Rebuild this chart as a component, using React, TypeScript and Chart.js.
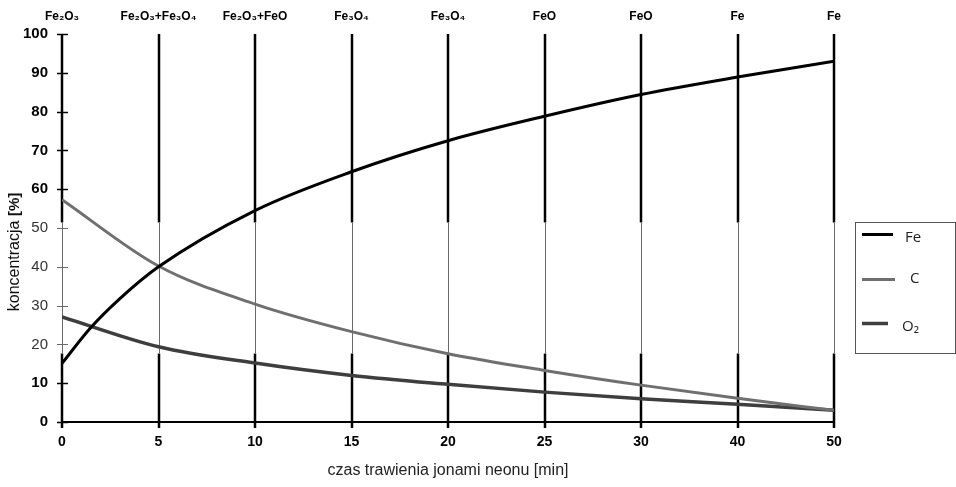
import React, { useEffect, useRef } from 'react';
import { Chart, registerables } from 'chart.js';

Chart.register(...registerables);

// ---- data ----
// x-axis categories (equally spaced positions 0..8)
const categories = ['0', '5', '10', '15', '20', '25', '30', '40', '50'];
const phaseLabels = ['Fe₂O₃', 'Fe₂O₃+Fe₃O₄', 'Fe₂O₃+FeO', 'Fe₃O₄', 'Fe₃O₄', 'FeO', 'FeO', 'Fe', 'Fe'];

// series sampled along the category positions (Fe with two read-off intermediate points)
const feX = [0, 0.29, 0.6, 1, 2, 3, 4, 5, 6, 7, 8];
const feY = [15.1, 24.1, 31.8, 40, 54.5, 64.5, 72.5, 78.8, 84.4, 88.9, 93];
const cX = [0, 1, 2, 3, 4, 5, 6, 7, 8];
const cY = [57.3, 40.2, 30.4, 23.3, 17.6, 13.3, 9.5, 6.1, 3];
const o2X = [0, 1, 2, 3, 4, 5, 6, 7, 8];
const o2Y = [27.1, 19.4, 15.2, 12, 9.7, 7.7, 6, 4.6, 3];

const seriesNames = ['Fe', 'C', 'O₂'];
const seriesColors = ['#000000', '#6f6f6f', '#3e3e3e'];
const seriesWidths = [3, 3, 3.5];

const xTitle = 'czas trawienia jonami neonu [min]';
const yTitleMain = 'koncentracja ';
const yTitleUnit = '[%]';

// ---- layout constants ----
const W = 956;
const H = 487;
const LEGEND = { left: 855.5, top: 222.5, right: 955.5, bottom: 353.5 };

const inBand = (py: number) => py > LEGEND.top && py < LEGEND.bottom;
const zip = (xs: number[], ys: number[]) => xs.map((x, i) => ({ x, y: ys[i] }));

const decorPlugin = {
  id: 'decor',
  beforeDatasetsDraw(chart: any) {
    const { ctx, chartArea, scales } = chart;
    const x = scales.x;
    const y = scales.y;
    const line = (x1: number, y1: number, x2: number, y2: number) => {
      ctx.beginPath();
      ctx.moveTo(x1, y1);
      ctx.lineTo(x2, y2);
      ctx.stroke();
    };
    ctx.save();
    categories.forEach((_, i) => {
      const px = Math.round(x.getPixelForValue(i));
      ctx.strokeStyle = '#000';
      ctx.lineWidth = 2.5;
      line(px, chartArea.top, px, LEGEND.top);
      line(px, LEGEND.bottom, px, chartArea.bottom + 6);
      ctx.strokeStyle = '#6a6a6a';
      ctx.lineWidth = 1;
      line(px + 0.5, LEGEND.top, px + 0.5, LEGEND.bottom);
    });
    y.ticks.forEach((t: any) => {
      const py = Math.round(y.getPixelForValue(t.value)) + 0.5;
      const band = inBand(py);
      ctx.strokeStyle = band ? '#6a6a6a' : '#000';
      ctx.lineWidth = band ? 1 : 1.5;
      line(chartArea.left - 5, py, chartArea.left + 6, py);
    });
    ctx.restore();
  },
  afterDraw(chart: any) {
    const { ctx } = chart;
    ctx.save();
    // legend box
    ctx.strokeStyle = '#555';
    ctx.lineWidth = 1;
    ctx.strokeRect(LEGEND.left, LEGEND.top, LEGEND.right - LEGEND.left, LEGEND.bottom - LEGEND.top);
    const rows = [
      { ly: 234.5, lx2: 893, tx: 905, ty: 238 },
      { ly: 279.5, lx2: 895, tx: 910, ty: 279 },
      { ly: 323.5, lx2: 888, tx: 902, ty: 327 },
    ];
    ctx.font = '15px "Open Sans", "Noto Sans", sans-serif';
    ctx.textBaseline = 'middle';
    ctx.textAlign = 'left';
    rows.forEach((r, i) => {
      ctx.strokeStyle = seriesColors[i];
      ctx.lineWidth = seriesWidths[i];
      ctx.beginPath();
      ctx.moveTo(862, r.ly);
      ctx.lineTo(r.lx2, r.ly);
      ctx.stroke();
      ctx.fillStyle = '#222';
      ctx.fillText(seriesNames[i], r.tx, r.ty);
    });
    // y axis title
    ctx.translate(15, 252);
    ctx.rotate(-Math.PI / 2);
    const f1 = '16px "Liberation Sans", Arial, sans-serif';
    const f2 = 'bold 15px "Liberation Sans", Arial, sans-serif';
    ctx.font = f1;
    const w1 = ctx.measureText(yTitleMain).width;
    ctx.font = f2;
    const w2 = ctx.measureText(yTitleUnit).width;
    const start = -(w1 + w2) / 2;
    ctx.textAlign = 'left';
    ctx.textBaseline = 'middle';
    ctx.fillStyle = '#111';
    ctx.font = f1;
    ctx.fillText(yTitleMain, start, 0);
    ctx.font = f2;
    ctx.fillText(yTitleUnit, start + w1, 0);
    ctx.restore();
  },
};

export default function App() {
  const ref = useRef<HTMLCanvasElement>(null);
  useEffect(() => {
    if (!ref.current) return;
    const mk = (data: { x: number; y: number }[], i: number) => ({
      label: seriesNames[i],
      data,
      xAxisID: 'x',
      yAxisID: 'y',
      borderColor: seriesColors[i],
      backgroundColor: seriesColors[i],
      borderWidth: seriesWidths[i],
      pointRadius: 0,
      cubicInterpolationMode: 'monotone' as const,
      fill: false,
    });
    const font = (size: number, weight: string = 'bold') => ({
      family: '"Liberation Sans", Arial, sans-serif',
      size,
      weight,
    });
    const chart = new Chart(ref.current, {
      type: 'line',
      data: {
        datasets: [mk(zip(feX, feY), 0), mk(zip(cX, cY), 1), mk(zip(o2X, o2Y), 2)],
      },
      plugins: [decorPlugin],
      options: {
        animation: false,
        responsive: false,
        layout: { padding: { left: 0, right: W - 834, top: 0, bottom: 0 } },
        plugins: { legend: { display: false }, tooltip: { enabled: false } },
        scales: {
          x: {
            type: 'linear',
            position: 'bottom',
            min: 0,
            max: categories.length - 1,
            grid: { display: false, drawTicks: false },
            border: { display: true, color: '#000', width: 2 },
            ticks: {
              stepSize: 1,
              color: '#000',
              padding: 12,
              maxRotation: 0,
              autoSkip: false,
              callback: (v: any) => categories[v] ?? '',
              font: font(14),
            },
            title: {
              display: true,
              text: xTitle,
              color: '#222',
              padding: { top: 0, bottom: 7 },
              font: font(16, 'normal'),
            },
            afterFit: (s: any) => { s.height = H - 422; },
          },
          xTop: {
            type: 'linear',
            position: 'top',
            min: 0,
            max: phaseLabels.length - 1,
            grid: { display: false, drawTicks: false },
            border: { display: false },
            ticks: {
              stepSize: 1,
              color: '#000',
              padding: 10,
              maxRotation: 0,
              autoSkip: false,
              callback: (v: any) => phaseLabels[v] ?? '',
              font: font(12),
            },
            afterFit: (s: any) => { s.height = 34; },
          },
          y: {
            min: 0,
            max: 100,
            grid: { display: false, drawTicks: false },
            border: { display: false },
            ticks: {
              stepSize: 10,
              padding: 14,
              color: (c: any) => (c.tick && c.tick.value >= 20 && c.tick.value <= 50 ? '#333' : '#000'),
              font: (c: any) => font(15, c.tick && c.tick.value >= 20 && c.tick.value <= 50 ? 'normal' : 'bold'),
            },
            afterFit: (s: any) => { s.width = 62; },
          },
        },
      },
    } as any);
    return () => chart.destroy();
  }, []);
  return (
    <canvas
      ref={ref}
      width={W}
      height={H}
      style={{ position: 'fixed', left: 0, top: 0, width: W, height: H, background: '#fff' }}
    />
  );
}
